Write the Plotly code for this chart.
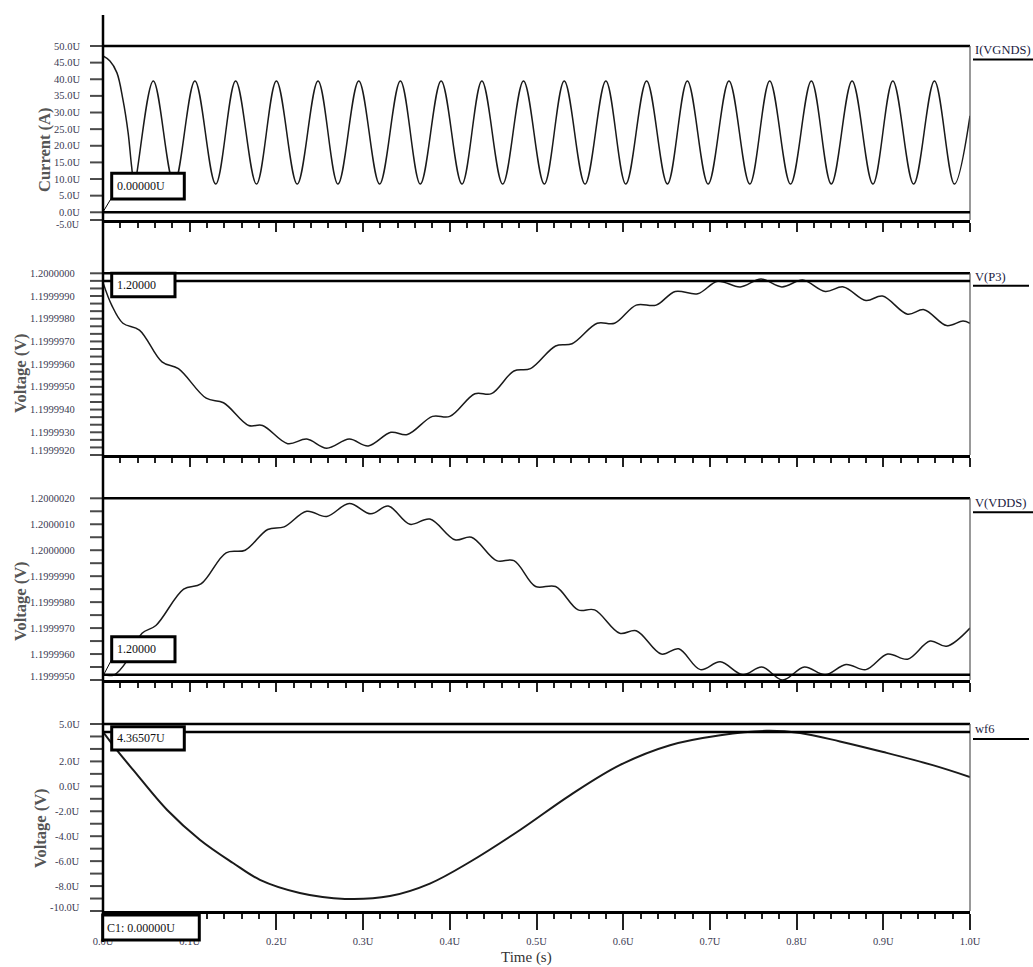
import plotly.graph_objects as go

# ---------------- data ----------------
# Panel 1 : I(VGNDS)  (time in us, current in uA)
t_ivgnds = [0.0, 0.008, 0.016, 0.023, 0.029, 0.033, 0.036,
            0.058, 0.082, 0.106, 0.130, 0.153, 0.177, 0.200, 0.224, 0.248, 0.271,
            0.295, 0.319, 0.343, 0.366, 0.390, 0.414, 0.437, 0.461, 0.485, 0.509,
            0.532, 0.556, 0.580, 0.603, 0.627, 0.651, 0.674, 0.698, 0.722, 0.746,
            0.769, 0.793, 0.817, 0.840, 0.864, 0.888, 0.911, 0.935, 0.959, 0.982, 1.0]
i_vgnds = [47.0, 45.5, 42.0, 33.9, 23.9, 13.8, 8.5,
           39.5, 8.5, 39.5, 8.5, 39.5, 8.5, 39.5, 8.5, 39.5, 8.5,
           39.5, 8.5, 39.5, 8.5, 39.5, 8.5, 39.5, 8.5, 39.5, 8.5,
           39.5, 8.5, 39.5, 8.5, 39.5, 8.5, 39.5, 8.5, 39.5, 8.5,
           39.5, 8.5, 39.5, 8.5, 39.5, 8.5, 39.5, 8.5, 39.5, 8.5, 29.0]

# Panel 2 : V(P3)
t_p3 = [0.0, 0.010, 0.023, 0.042, 0.068, 0.087, 0.119, 0.139, 0.168, 0.184,
        0.213, 0.235, 0.258, 0.284, 0.306, 0.332, 0.351, 0.380, 0.400, 0.429,
        0.448, 0.474, 0.493, 0.522, 0.541, 0.570, 0.590, 0.615, 0.638, 0.660,
        0.686, 0.709, 0.735, 0.759, 0.783, 0.807, 0.833, 0.854, 0.880, 0.899,
        0.928, 0.947, 0.973, 0.992, 1.0]
v_p3 = [1.1999996, 1.1999986, 1.1999978, 1.1999975, 1.1999961, 1.1999958,
        1.1999945, 1.1999943, 1.1999933, 1.1999933, 1.1999925, 1.1999927,
        1.1999923, 1.1999927, 1.1999924, 1.1999930, 1.1999929, 1.1999937,
        1.1999937, 1.1999947, 1.1999947, 1.1999957, 1.1999958, 1.1999968,
        1.1999969, 1.1999978, 1.1999978, 1.1999986, 1.1999986, 1.1999992,
        1.1999991, 1.19999965, 1.1999994, 1.19999975, 1.1999994, 1.1999997,
        1.1999992, 1.1999994, 1.1999988, 1.1999990, 1.1999982, 1.1999984,
        1.1999977, 1.1999979, 1.1999978]

# Panel 3 : V(VDDS)
t_vdds = [0.0, 0.013, 0.029, 0.045, 0.061, 0.093, 0.113, 0.142, 0.164, 0.190,
          0.209, 0.235, 0.258, 0.284, 0.309, 0.329, 0.354, 0.377, 0.406, 0.425,
          0.454, 0.474, 0.499, 0.522, 0.548, 0.567, 0.596, 0.615, 0.644, 0.664,
          0.689, 0.712, 0.738, 0.760, 0.784, 0.809, 0.833, 0.857, 0.880, 0.905,
          0.928, 0.954, 0.973, 1.0]
v_vdds = [1.1999952, 1.1999952, 1.1999958, 1.1999968, 1.1999971, 1.1999985,
          1.1999987, 1.1999999, 1.2000000, 1.2000008, 1.2000009, 1.2000015,
          1.2000013, 1.2000018, 1.2000014, 1.2000017, 1.2000010, 1.2000012,
          1.2000004, 1.2000005, 1.1999996, 1.1999996, 1.1999986, 1.1999986,
          1.1999977, 1.1999977, 1.1999968, 1.1999969, 1.1999960, 1.1999962,
          1.1999954, 1.1999957, 1.1999952, 1.1999955, 1.1999950, 1.1999955,
          1.1999952, 1.1999956, 1.1999954, 1.1999960, 1.1999958, 1.1999965,
          1.1999963, 1.1999970]

# Panel 4 : wf6 (uV)
t_wf6 = [0.0, 0.016, 0.035, 0.074, 0.112, 0.150, 0.181, 0.227, 0.279, 0.331,
         0.377, 0.423, 0.481, 0.539, 0.596, 0.654, 0.712, 0.765, 0.804, 0.850,
         0.900, 0.957, 1.0]
wf6 = [4.365, 2.9, 1.3, -1.9, -4.3, -6.15, -7.5, -8.55, -9.03, -8.8,
       -7.8, -6.07, -3.5, -0.7, 1.7, 3.3, 4.1, 4.45, 4.28, 3.6,
       2.75, 1.7, 0.75]

# axis tick labels
x_tickvals = [0.0, 0.1, 0.2, 0.3, 0.4, 0.5, 0.6, 0.7, 0.8, 0.9, 1.0]
x_ticktext = ["0.0U", "0.1U", "0.2U", "0.3U", "0.4U", "0.5U", "0.6U", "0.7U", "0.8U", "0.9U", "1.0U"]

y1_range = [-2.32, 50.0]
y1_tickvals = [50, 45, 40, 35, 30, 25, 20, 15, 10, 5, 0]
y1_ticktext = ["50.0U", "45.0U", "40.0U", "35.0U", "30.0U", "25.0U", "20.0U",
               "15.0U", "10.0U", "5.0U", "0.0U"]
y1_bottom_text = "-5.0U"

y2_range = [1.1999920, 1.2000000]
y2_tickvals = [1.2000000, 1.1999990, 1.1999980, 1.1999970, 1.1999960,
               1.1999950, 1.1999940, 1.1999930, 1.1999920]
y2_ticktext = ["1.2000000", "1.1999990", "1.1999980", "1.1999970", "1.1999960",
               "1.1999950", "1.1999940", "1.1999930", "1.1999920"]

y3_range = [1.1999950, 1.2000020]
y3_tickvals = [1.2000020, 1.2000010, 1.2000000, 1.1999990, 1.1999980,
               1.1999970, 1.1999960, 1.1999950]
y3_ticktext = ["1.2000020", "1.2000010", "1.2000000", "1.1999990", "1.1999980",
               "1.1999970", "1.1999960", "1.1999950"]

y4_range = [-10.0, 5.0]
y4_tickvals = [5, 2, 0, -2, -4, -6, -8, -10]
y4_ticktext = ["5.0U", "2.0U", "0.0U", "-2.0U", "-4.0U", "-6.0U", "-8.0U", "-10.0U"]

# cursor readouts
cursor_vals = [0.0, 1.19999966, 1.1999952, 4.36507]
cursor_text = ["0.00000U", "1.20000", "1.20000", "4.36507U"]
cursor_x_text = "C1: 0.00000U"
trace_names = ["I(VGNDS)", "V(P3)", "V(VDDS)", "wf6"]
y_titles = ["Current (A)", "Voltage (V)", "Voltage (V)", "Voltage (V)"]
x_title = "Time (s)"

# ---------------- geometry helpers (pixels -> paper) ----------------
W, H = 1033, 967
PX_L, PX_R, PY_T, PY_B = 103, 970, 46, 911


def px(x):
    return (x - PX_L) / (PX_R - PX_L)


def py(y):
    return (PY_B - y) / (PY_B - PY_T)


def tick_positions(lo, hi, step):
    n = int(round((hi - lo) / step))
    return [lo + j * step for j in range(n + 1)]


panel_px = [(46, 220), (273.3, 455), (498.3, 680), (724, 911)]
domains = [[py(b), py(t)] for (t, b) in panel_px]

FONT = "Liberation Serif, Times New Roman, serif"
TICKC = "#3a3a52"
LINEC = "#1a1a1a"
YTICKC = "#4a4a4a"

fig = go.Figure()
series = [(t_ivgnds, i_vgnds, 1.5), (t_p3, v_p3, 1.5), (t_vdds, v_vdds, 1.5), (t_wf6, wf6, 2.0)]
for k, (xs, ys, lw) in enumerate(series):
    sfx = "" if k == 0 else str(k + 1)
    fig.add_trace(go.Scatter(x=xs, y=ys, mode="lines", xaxis="x" + sfx, yaxis="y" + sfx,
                             line=dict(color=LINEC, width=lw, shape="spline", smoothing=1.0),
                             showlegend=False, hoverinfo="skip"))

# (range, tick positions, labelled values, labels, label right edge px)
y_cfg = [
    (y1_range, list(y1_tickvals) + [y1_range[0]], y1_tickvals, y1_ticktext, 81.5),
    (y2_range, tick_positions(y2_range[0], y2_range[1], 1e-6 / 3), y2_tickvals, y2_ticktext, 76.5),
    (y3_range, tick_positions(y3_range[0], y3_range[1], 0.5e-6), y3_tickvals, y3_ticktext, 76.5),
    (y4_range, tick_positions(y4_range[0], y4_range[1], 1.0), y4_tickvals, y4_ticktext, 81.5),
]

layout = dict(width=W, height=H, margin=dict(l=PX_L, r=W - PX_R, t=PY_T, b=H - PY_B),
              paper_bgcolor="white", plot_bgcolor="white", showlegend=False)

ann = []
shapes = []
for k in range(4):
    sfx = "" if k == 0 else str(k + 1)
    last = (k == 3)
    layout["xaxis" + sfx] = dict(
        domain=[0, 1], range=[0, 1], anchor="y" + sfx, showline=True, linecolor="black",
        linewidth=2.5, ticks="outside", tickmode="array", tickvals=x_tickvals,
        ticktext=x_ticktext, ticklen=16 if last else 9, tickwidth=1.6, tickcolor="#222",
        minor=dict(ticks="outside", dtick=0.02, tick0=0, ticklen=5, tickwidth=1.6, tickcolor="#222"),
        showgrid=False, zeroline=False, showticklabels=last,
        tickfont=dict(family=FONT, size=10.5, color=TICKC), ticklabelstandoff=3)
    rng, tpos, lv, lt, xr = y_cfg[k]
    layout["yaxis" + sfx] = dict(
        domain=domains[k], range=rng, anchor="x" + sfx, showline=False,
        ticks="", showgrid=False, zeroline=False, showticklabels=False)
    # y tick marks: position along the axis domain (not clipped to the plot area)
    span = rng[1] - rng[0]
    for v in tpos:
        f = (v - rng[0]) / span
        shapes.append(dict(type="line", xref="paper", yref="y" + sfx + " domain",
                           x0=px(90), x1=px(103), y0=f, y1=f,
                           line=dict(color=YTICKC, width=2)))
    # tick labels placed through the axis scale
    for v, t in zip(lv, lt):
        is_bottom = abs(v - rng[0]) < 1e-12 * max(1, abs(v))
        ann.append(dict(x=px(xr), y=v, xref="paper", yref="y" + sfx, text=t, showarrow=False,
                        xanchor="right", yanchor="middle", yshift=4 if is_bottom else 0,
                        font=dict(family=FONT, size=10.5, color=TICKC)))

# bottom label of the current axis (squeezed under 0.0U as in the reference)
ann.append(dict(x=px(81.5), y=py(224), xref="paper", yref="paper", text=y1_bottom_text, showarrow=False,
                xanchor="right", yanchor="middle", font=dict(family=FONT, size=10, color=TICKC)))

# long left vertical axis line
shapes.append(dict(type="line", xref="paper", yref="paper", x0=0, x1=0, y0=py(15), y1=py(942),
                   line=dict(color="black", width=2.5)))
for k, (top, bot) in enumerate(panel_px):
    sfx = "" if k == 0 else str(k + 1)
    shapes.append(dict(type="line", xref="paper", yref="paper", x0=0, x1=1, y0=py(top), y1=py(top),
                       line=dict(color="black", width=2.5)))
    shapes.append(dict(type="line", xref="paper", yref="paper", x0=1, x1=1, y0=py(bot), y1=py(top),
                       line=dict(color="#555", width=1.2)))
    shapes.append(dict(type="line", xref="paper", yref="y" + sfx, x0=0, x1=1,
                       y0=cursor_vals[k], y1=cursor_vals[k], line=dict(color="black", width=2.5)))

# right-side legend lines
for (yy, x_end) in [(59.5, 1033), (285.7, 1029), (512.3, 1033), (739, 1029)]:
    shapes.append(dict(type="line", xref="paper", yref="paper", x0=px(973), x1=px(x_end),
                       y0=py(yy), y1=py(yy), line=dict(color="black", width=2)))

# leader lines
for (xa, ya, xb, yb) in [(112, 197, 103, 212), (113, 657, 103, 676)]:
    shapes.append(dict(type="line", xref="paper", yref="paper", x0=px(xa), y0=py(ya),
                       x1=px(xb), y1=py(yb), line=dict(color="black", width=1)))

# readout boxes
boxes = [(111.7, 173.3, 184.3, 199), (111.7, 273.3, 175, 296.7), (111.7, 636.7, 175, 661.7),
         (111.7, 726.7, 184.3, 750), (102.7, 915, 199.3, 940)]
for (x0, y0, x1, y1) in boxes:
    shapes.append(dict(type="rect", xref="paper", yref="paper", x0=px(x0), x1=px(x1),
                       y0=py(y1), y1=py(y0), fillcolor="white", line=dict(color="black", width=3),
                       layer="above"))

layout["shapes"] = shapes

box_text_pos = [(115, 186.2), (115, 285), (115, 649.2), (115, 738.4)]
for (x, y), txt in zip(box_text_pos, cursor_text):
    ann.append(dict(x=px(x), y=py(y), xref="paper", yref="paper", text=txt, showarrow=False,
                    xanchor="left", yanchor="middle", font=dict(family=FONT, size=12, color="#111")))
ann.append(dict(x=px(105), y=py(927.5), xref="paper", yref="paper", text=cursor_x_text, showarrow=False,
                xanchor="left", yanchor="middle", font=dict(family=FONT, size=12, color="#111")))

for yy, name in zip([50, 276.7, 503, 729], trace_names):
    ann.append(dict(x=px(973), y=py(yy), xref="paper", yref="paper", text=name, showarrow=False,
                    xanchor="left", yanchor="middle", font=dict(family=FONT, size=12.5, color="#1a1a40")))

for (xx, yy), title in zip([(44, 150), (20, 373), (20, 601), (40, 828)], y_titles):
    ann.append(dict(x=px(xx), y=py(yy), xref="paper", yref="paper", text="<b>" + title + "</b>",
                    showarrow=False, textangle=-90, xanchor="center", yanchor="middle",
                    font=dict(family=FONT, size=16.5, color="#555")))

ann.append(dict(x=px(526), y=py(958), xref="paper", yref="paper", text=x_title, showarrow=False,
                xanchor="center", yanchor="middle", font=dict(family=FONT, size=15, color="#333")))
layout["annotations"] = ann

fig.update_layout(**layout)
fig.write_html("out.html", config={"displayModeBar": False},
               post_script="document.body.style.margin='0';document.body.style.overflow='hidden';")
